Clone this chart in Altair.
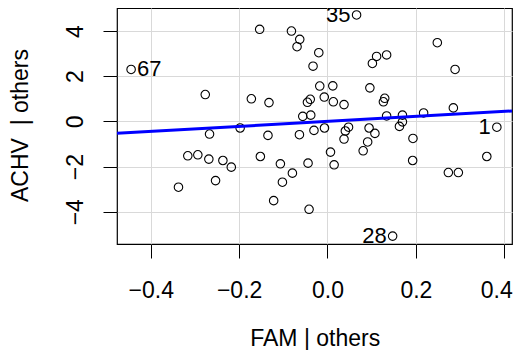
import altair as alt
import pandas as pd

# Added-variable plot: ACHV | others vs FAM | others
fam = [-0.4444, -0.2766, -0.1977, 0.0658, -0.1535, -0.0816, -0.0628, -0.0689, -0.0197, -0.0327,
       -0.0175, 0.0120, -0.1723, -0.1324, -0.0454, -0.0390, -0.0073, 0.0132, 0.0374, -0.0560,
       -0.0379, 0.0959, 0.1016, 0.1111, 0.1338, 0.2485, 0.2887, 0.1295, 0.1265, 0.1338,
       0.1696, 0.1696, 0.2175, 0.2848, 0.3832, 0.3605, 0.2735, 0.2961, 0.1934, 0.1927,
       0.1474, 0.1628, 0.1073, -0.1347, -0.0635, -0.0306, -0.0068, 0.0404, 0.0476, 0.0374,
       0.0941, 0.0909, 0.0807, 0.0068, 0.0150, -0.1519, -0.1066, -0.0440, -0.0794, -0.1020,
       -0.1218, -0.0417, -0.2669, -0.3161, -0.2934, -0.2685, -0.2367, -0.2177, -0.2533, -0.3372]
achv = [2.298, 1.187, -0.293, 4.711, 4.076, 4.000, 3.631, 3.307, 3.040, 2.444,
        1.564, 1.573, 1.000, 0.831, 0.844, 0.978, 1.076, 0.867, 0.742, 0.222,
        0.276, 1.484, 2.564, 2.876, 2.942, 3.484, 2.298, 1.022, 0.867, 0.240,
        0.276, -0.022, 0.373, 0.596, -0.258, -1.556, -2.267, -2.267, -0.756, -1.733,
        -5.080, -0.222, -0.533, -0.622, -0.591, -0.400, -0.293, -0.427, -0.258, -0.782,
        -0.293, -0.911, -1.302, -1.360, -1.924, -1.556, -1.880, -1.849, -2.293, -2.693,
        -3.511, -3.893, -0.560, -1.524, -1.480, -1.671, -1.733, -2.027, -2.622, -2.916]

# Identified points
lab_text = ["67", "35", "1", "28"]
lab_fam = [-0.4444, 0.0658, 0.3832, 0.1474]
lab_achv = [2.298, 4.711, -0.258, -5.080]
lab_side = ["right", "left", "left", "left"]

# Least-squares line (through origin)
fit_fam = [-0.4763, 0.4175]
fit_achv = [-0.526, 0.461]

x_ticks = [-0.4, -0.2, 0.0, 0.2, 0.4]
y_ticks = [-4, -2, 0, 2, 4]
x_domain = [-0.4763, 0.4175]
y_domain = [-5.43, 5.02]

FONT = "Liberation Sans"

pts = pd.DataFrame({"fam": fam, "achv": achv})
labs = pd.DataFrame({"fam": lab_fam, "achv": lab_achv, "text": lab_text, "side": lab_side})
fit = pd.DataFrame({"fam": fit_fam, "achv": fit_achv})

xscale = alt.Scale(domain=x_domain, nice=False, zero=False)
yscale = alt.Scale(domain=y_domain, nice=False, zero=False)

xaxis = alt.Axis(values=x_ticks, format=".1f", title="FAM | others", grid=True,
                 gridColor="#d9d9d9", gridWidth=1, domain=False, tickColor="black",
                 tickSize=14, tickWidth=1, labelFontSize=23, labelFont=FONT, labelColor="black",
                 labelPadding=21, labelBaseline="top", titleFont=FONT, titleFontSize=23,
                 titleFontWeight="normal", titleColor="black", titleX=197.7, titleY=101.5,
                 titleBaseline="alphabetic", titleAlign="center", labelFlush=False,
                 labelOffset={"condition": {"test": "datum.value > 0.35", "value": -8},
                              "value": 0})
yaxis = alt.Axis(values=y_ticks, format="d", title="ACHV\u00a0 | others", grid=True,
                 gridColor="#d9d9d9", gridWidth=1, domain=False, tickColor="black",
                 tickSize=14, tickWidth=1, labelFontSize=23, labelFont=FONT, labelColor="black",
                 labelAngle=270, labelAlign="center", labelBaseline="alphabetic",
                 labelPadding=21, titleFont=FONT, titleFontSize=23, titleFontWeight="normal",
                 titleColor="black", titleAngle=270, titleX=-89.5, titleY=117,
                 titleAlign="center", titleBaseline="alphabetic", labelFlush=False)

points = alt.Chart(pts).mark_point(shape="circle", filled=False, color="black",
                                   size=72, strokeWidth=1.1, opacity=1).encode(
    x=alt.X("fam:Q", scale=xscale, axis=xaxis),
    y=alt.Y("achv:Q", scale=yscale, axis=yaxis),
)

line = alt.Chart(fit).mark_line(color="#0000ff", strokeWidth=3, clip=True).encode(
    x=alt.X("fam:Q", scale=xscale),
    y=alt.Y("achv:Q", scale=yscale),
)

lab_right = alt.Chart(labs).transform_filter(alt.datum.side == "right").mark_text(
    align="left", baseline="middle", dx=6, fontSize=22, font=FONT, color="black").encode(
    x=alt.X("fam:Q", scale=xscale), y=alt.Y("achv:Q", scale=yscale), text="text:N")
lab_left = alt.Chart(labs).transform_filter(alt.datum.side == "left").mark_text(
    align="right", baseline="middle", dx=-6, fontSize=22, font=FONT, color="black").encode(
    x=alt.X("fam:Q", scale=xscale), y=alt.Y("achv:Q", scale=yscale), text="text:N")

chart = alt.layer(points, line, lab_right, lab_left).properties(
    width=395, height=236,
    background="white",
    autosize=alt.AutoSizeParams(type="none"),
    padding={"left": 109, "top": 0, "right": 2, "bottom": 106},
).configure_view(stroke="black", strokeWidth=1.2)

chart.save("out.html", embed_options={"renderer": "svg", "actions": False})
